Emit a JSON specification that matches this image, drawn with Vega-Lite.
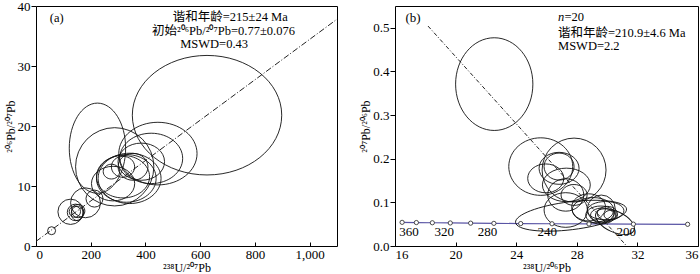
{
  "$schema": "https://vega.github.io/schema/vega-lite/v6.json",
  "padding": {"left": 3, "top": -1, "right": 2, "bottom": 0},
  "spacing": 21,
  "background": "white",
  "config": {
    "view": {"stroke": "black", "strokeWidth": 1},
    "axis": {
      "grid": false, "domain": false,
      "labelFont": "Liberation Serif", "labelFontSize": 13, "labelColor": "black",
      "titleFont": "Liberation Serif", "titleFontSize": 12, "titleFontWeight": "normal", "titleColor": "black",
      "tickColor": "black", "tickWidth": 1
    },
    "axisX": {"tickSize": -4, "labelPadding": 6, "titlePadding": 1},
    "axisY": {"tickSize": 5, "labelPadding": 1, "titlePadding": 0}
  },
  "datasets": {
    "ellA": [
      {"x": 625, "y": 21.8, "ex": 273, "form": "e80"},
      {"x": 224.6, "y": 16.3, "ex": 103, "form": "e160"},
      {"x": 287.6, "y": 13.2, "ex": 143, "form": "e100"},
      {"x": 445.5, "y": 15.4, "ex": 143, "form": "e80"},
      {"x": 421, "y": 14.6, "ex": 115, "form": "e80"},
      {"x": 384.8, "y": 14.05, "ex": 85, "form": "e80"},
      {"x": 342, "y": 11.27, "ex": 115, "form": "e80"},
      {"x": 330, "y": 11.27, "ex": 109, "form": "e80"},
      {"x": 318, "y": 11.55, "ex": 97, "form": "e80"},
      {"x": 281.7, "y": 10.4, "ex": 79, "form": "e80"},
      {"x": 275.6, "y": 12.4, "ex": 30, "form": "e90"},
      {"x": 318, "y": 13.2, "ex": 42.5, "form": "e90"},
      {"x": 354.6, "y": 13.2, "ex": 54.6, "form": "e90"},
      {"x": 181, "y": 7.2, "ex": 54.6, "form": "e100"},
      {"x": 213.7, "y": 7.9, "ex": 31, "form": "e100"},
      {"x": 126.3, "y": 5.7, "ex": 46.2, "form": "e100"},
      {"x": 144.5, "y": 5.6, "ex": 30.2, "form": "e100"},
      {"x": 142, "y": 5.72, "ex": 20.7, "form": "e100"},
      {"x": 154.3, "y": 5.83, "ex": 24.4, "form": "e100"},
      {"x": 150.7, "y": 5.43, "ex": 21.8, "form": "e120"},
      {"x": 57, "y": 2.55, "ex": 14.6, "form": "e100"}
    ],
    "ellB": [
      {"x": 22.55, "y": 0.371, "ex": 2.55, "form": "e120", "tilt": 0},
      {"x": 25.62, "y": 0.182, "ex": 2.11, "form": "e90", "tilt": 0},
      {"x": 27.82, "y": 0.174, "ex": 2.11, "form": "e100", "tilt": 0},
      {"x": 25.95, "y": 0.155, "ex": 1.19, "form": "e80", "tilt": 0},
      {"x": 26.83, "y": 0.178, "ex": 1.32, "form": "e80", "tilt": 0},
      {"x": 26.83, "y": 0.182, "ex": 0.99, "form": "e90", "tilt": 0},
      {"x": 27.31, "y": 0.14, "ex": 1.58, "form": "e70", "tilt": 0},
      {"x": 27.27, "y": 0.117, "ex": 1.19, "form": "e90", "tilt": 0},
      {"x": 27.82, "y": 0.117, "ex": 0.86, "form": "e80", "tilt": 0},
      {"x": 27.62, "y": 0.0694, "ex": 3.69, "form": "e25", "tilt": -7},
      {"x": 27.27, "y": 0.0825, "ex": 1.43, "form": "e80", "tilt": 0},
      {"x": 28.78, "y": 0.0885, "ex": 1.12, "form": "e80", "tilt": 0},
      {"x": 29.62, "y": 0.0848, "ex": 0.92, "form": "e100", "tilt": 0},
      {"x": 29.58, "y": 0.071, "ex": 0.99, "form": "e60", "tilt": 0},
      {"x": 30.01, "y": 0.0747, "ex": 0.66, "form": "e70", "tilt": 0},
      {"x": 29.68, "y": 0.071, "ex": 0.77, "form": "e60", "tilt": 0},
      {"x": 30.24, "y": 0.071, "ex": 0.44, "form": "e70", "tilt": 0},
      {"x": 30.52, "y": 0.0557, "ex": 1.38, "form": "e50", "tilt": 25},
      {"x": 29.07, "y": 0.0825, "ex": 1.37, "form": "e60", "tilt": 0},
      {"x": 29.9, "y": 0.0809, "ex": 1.21, "form": "e50", "tilt": 0}
    ],
    "lineA": [{"x": 0, "y": 0.77}, {"x": 1100, "y": 37.8}],
    "lineB": [{"x": 18.18, "y": 0.504}, {"x": 31.29, "y": 0}],
    "conc": [
      {"age": 380, "x": 16.469, "y": 0.05421},
      {"age": 360, "x": 17.411, "y": 0.05373},
      {"age": 340, "x": 18.464, "y": 0.05326},
      {"age": 320, "x": 19.649, "y": 0.05279},
      {"age": 300, "x": 20.992, "y": 0.05233},
      {"age": 280, "x": 22.527, "y": 0.05188},
      {"age": 260, "x": 24.297, "y": 0.05143},
      {"age": 240, "x": 26.363, "y": 0.05098},
      {"age": 220, "x": 28.804, "y": 0.05054},
      {"age": 200, "x": 31.735, "y": 0.05011},
      {"age": 180, "x": 35.316, "y": 0.04968}
    ],
    "concLab": [
      {"x": 16.92, "y": 0.031, "t": "360"},
      {"x": 19.25, "y": 0.031, "t": "320"},
      {"x": 22.1, "y": 0.031, "t": "280"},
      {"x": 26.05, "y": 0.031, "t": "240"},
      {"x": 31.27, "y": 0.031, "t": "200"}
    ],
    "txtA": [
      {"x": 710, "y": 38.1, "t": "谐和年龄=215±24 Ma"},
      {"x": 685, "y": 35.8, "t": "初始²⁰⁶Pb/²⁰⁷Pb=0.77±0.076"},
      {"x": 651, "y": 33.7, "t": "MSWD=0.43"},
      {"x": 75.7, "y": 38.05, "t": "(a)"}
    ],
    "txtB": [
      {"x": 26.76, "y": 0.489, "t": "谐和年龄=210.9±4.6 Ma"},
      {"x": 26.76, "y": 0.459, "t": "MSWD=2.2"}
    ],
    "txtB2": [
      {"x": 17.19, "y": 0.523, "t": "(b)"}
    ],
    "nB": [{"x": 26.76, "y": 0.524, "t": "n", "rest": "=20"}]
  },
  "resolve": {"scale": {"x": "independent", "y": "independent", "size": "independent", "shape": "independent"}},
  "hconcat": [
    {
      "width": 301, "height": 240,
      "encoding": {
        "x": {"field": "x", "type": "quantitative", "scale": {"domain": [0, 1100], "nice": false},
              "axis": {"values": [0, 200, 400, 600, 800, 1000], "title": "²³⁸U/²⁰⁷Pb"}},
        "y": {"field": "y", "type": "quantitative", "scale": {"domain": [0, 40], "nice": false},
              "axis": {"values": [0, 10, 20, 30, 40], "title": "²⁰⁶Pb/²⁰⁷Pb"}}
      },
      "layer": [
        {
          "data": {"name": "lineA"},
          "mark": {"type": "line", "color": "#222", "strokeWidth": 1, "strokeDash": [6, 2, 1, 2], "clip": true}
        },
        {
          "data": {"name": "ellA"},
          "mark": {"type": "point", "filled": false, "stroke": "#111", "strokeWidth": 0.9, "opacity": 1},
          "encoding": {
            "size": {"field": "ex", "type": "quantitative", "legend": null,
                     "scale": {"type": "pow", "exponent": 2, "domain": [0, 300], "range": [0, 26957]}},
            "shape": {"field": "form", "type": "nominal", "legend": null,
                      "scale": {"domain": ["e25", "e50", "e60", "e70", "e80", "e90", "e100", "e120", "e160"],
                                "range": ["M-1,0A1,0.25,0,1,1,1,0A1,0.25,0,1,1,-1,0Z", "M-1,0A1,0.5,0,1,1,1,0A1,0.5,0,1,1,-1,0Z", "M-1,0A1,0.6,0,1,1,1,0A1,0.6,0,1,1,-1,0Z", "M-1,0A1,0.7,0,1,1,1,0A1,0.7,0,1,1,-1,0Z", "M-1,0A1,0.8,0,1,1,1,0A1,0.8,0,1,1,-1,0Z", "M-1,0A1,0.9,0,1,1,1,0A1,0.9,0,1,1,-1,0Z", "circle", "M-1,0A1,1.2,0,1,1,1,0A1,1.2,0,1,1,-1,0Z", "M-1,0A1,1.6,0,1,1,1,0A1,1.6,0,1,1,-1,0Z"]}}
          }
        },
        {
          "data": {"name": "txtA"},
          "mark": {"type": "text", "font": "Liberation Serif, Noto Sans CJK SC", "fontSize": 12.5, "color": "black", "align": "center", "baseline": "middle"},
          "encoding": {"text": {"field": "t"}}
        }
      ]
    },
    {
      "width": 303, "height": 240,
      "encoding": {
        "x": {"field": "x", "type": "quantitative", "scale": {"domain": [16, 36], "nice": false},
              "axis": {"values": [16, 20, 24, 28, 32, 36], "title": "²³⁸U/²⁰⁶Pb"}},
        "y": {"field": "y", "type": "quantitative", "scale": {"domain": [0, 0.55], "nice": false},
              "axis": {"values": [0, 0.1, 0.2, 0.3, 0.4, 0.5], "format": ".1f", "title": "²⁰⁷Pb/²⁰⁶Pb"}}
      },
      "layer": [
        {
          "data": {"name": "conc"},
          "mark": {"type": "line", "color": "#5a55a5", "strokeWidth": 1.2}
        },
        {
          "data": {"name": "lineB"},
          "mark": {"type": "line", "color": "#222", "strokeWidth": 1, "strokeDash": [4, 2, 1, 2], "clip": true}
        },
        {
          "data": {"name": "ellB"},
          "mark": {"type": "point", "filled": false, "stroke": "#111", "strokeWidth": 0.9, "opacity": 1},
          "encoding": {
            "size": {"field": "ex", "type": "quantitative", "legend": null,
                     "scale": {"type": "pow", "exponent": 2, "domain": [0, 4], "range": [0, 14689]}},
            "shape": {"field": "form", "type": "nominal", "legend": null,
                      "scale": {"domain": ["e25", "e50", "e60", "e70", "e80", "e90", "e100", "e120", "e160"],
                                "range": ["M-1,0A1,0.25,0,1,1,1,0A1,0.25,0,1,1,-1,0Z", "M-1,0A1,0.5,0,1,1,1,0A1,0.5,0,1,1,-1,0Z", "M-1,0A1,0.6,0,1,1,1,0A1,0.6,0,1,1,-1,0Z", "M-1,0A1,0.7,0,1,1,1,0A1,0.7,0,1,1,-1,0Z", "M-1,0A1,0.8,0,1,1,1,0A1,0.8,0,1,1,-1,0Z", "M-1,0A1,0.9,0,1,1,1,0A1,0.9,0,1,1,-1,0Z", "circle", "M-1,0A1,1.2,0,1,1,1,0A1,1.2,0,1,1,-1,0Z", "M-1,0A1,1.6,0,1,1,1,0A1,1.6,0,1,1,-1,0Z"]}},
            "angle": {"field": "tilt", "type": "quantitative", "scale": null, "legend": null}
          }
        },
        {
          "data": {"name": "conc"},
          "mark": {"type": "point", "filled": true, "fill": "white", "stroke": "#222", "strokeWidth": 0.8, "size": 18, "opacity": 1}
        },
        {
          "data": {"name": "concLab"},
          "mark": {"type": "text", "font": "Liberation Serif", "fontSize": 13, "color": "black", "align": "center", "baseline": "middle"},
          "encoding": {"text": {"field": "t"}}
        },
        {
          "data": {"name": "txtB"},
          "mark": {"type": "text", "font": "Liberation Serif, Noto Sans CJK SC", "fontSize": 12.5, "color": "black", "align": "left", "baseline": "middle"},
          "encoding": {"text": {"field": "t"}}
        },
        {
          "data": {"name": "txtB2"},
          "mark": {"type": "text", "font": "Liberation Serif", "fontSize": 13, "color": "black", "align": "center", "baseline": "middle"},
          "encoding": {"text": {"field": "t"}}
        },
        {
          "data": {"name": "nB"},
          "mark": {"type": "text", "font": "Liberation Serif", "fontSize": 12.5, "fontStyle": "italic", "color": "black", "align": "left", "baseline": "middle"},
          "encoding": {"text": {"field": "t"}}
        },
        {
          "data": {"name": "nB"},
          "mark": {"type": "text", "font": "Liberation Serif", "fontSize": 12.5, "color": "black", "align": "left", "baseline": "middle", "dx": 6.5},
          "encoding": {"text": {"field": "rest"}}
        }
      ]
    }
  ]
}
